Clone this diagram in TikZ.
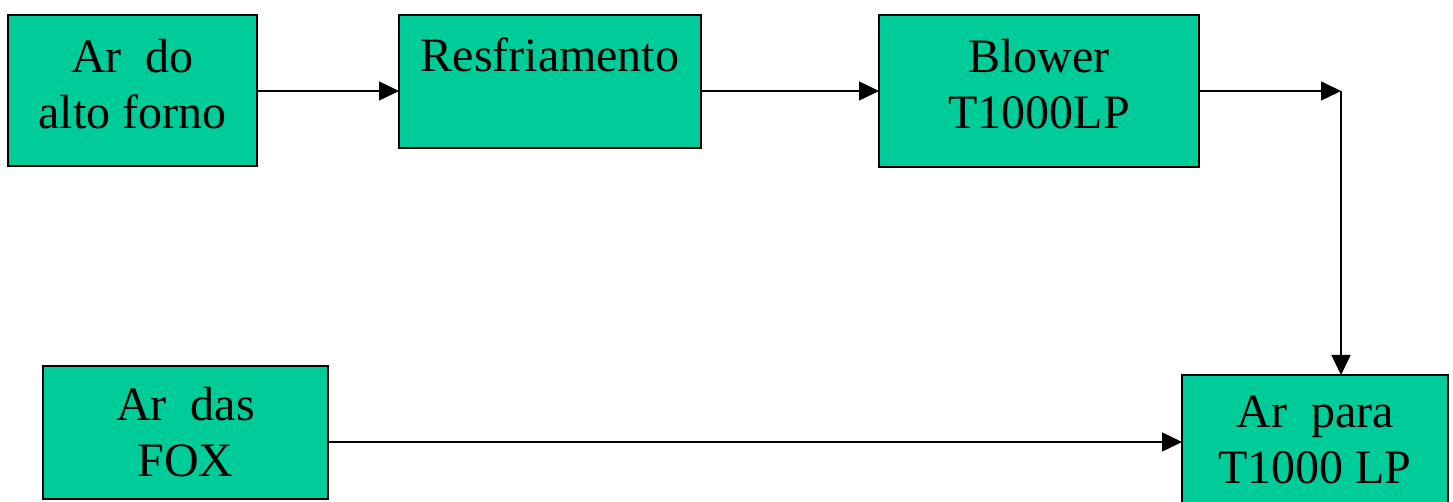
\documentclass[tikz,border=0pt]{standalone}
\usepackage{fontspec}
\setmainfont{Liberation Serif}
\usetikzlibrary{arrows.meta}
\definecolor{boxgreen}{RGB}{0,204,153}
\begin{document}
\begin{tikzpicture}[x=1pt,y=-1pt,
  box/.style={draw=black, line width=1.6pt, fill=boxgreen, anchor=north west, inner sep=0pt, outer sep=0pt, align=center, font=\fontsize{48}{56}\selectfont},
  lbl/.style={font=\fontsize{48}{56}\selectfont, inner sep=0pt, anchor=base},
  arr/.style={line width=1.6pt, -{Triangle[length=20pt,width=19pt]}},
  ln/.style={line width=1.6pt}]
\useasboundingbox (0,0) rectangle (1453,502);
\node[box, minimum width=249, minimum height=151, text depth=14pt] (n1) at (8,15) {Ar\ \ do\\alto forno};
\node[box, minimum width=302, minimum height=133] (n2) at (399,15) {};
\node[lbl] (t2) at (550,72) {Resfriamento};
\node[box, minimum width=320, minimum height=152, text depth=14pt] (n3) at (879,15) {Blower\\T1000LP};
\node[box, minimum width=285, minimum height=133] (n4) at (43,366) {Ar\ \ das\\FOX};
\node[box, minimum width=266, minimum height=130] (n5) at (1182,375) {Ar\ \ para\\T1000 LP};
\coordinate (c) at (1341,91);
\draw[arr] (n1.east |- c) -- (n2.west |- c);
\draw[arr] (n2.east |- c) -- (n3.west |- c);
\draw[arr] (n3.east |- c) -- (c);
\draw[arr] (c) -- (c |- n5.north);
\coordinate (d) at (0,442);
\draw[arr] (n4.east |- d) -- (n5.west |- d);
\end{tikzpicture}
\end{document}
